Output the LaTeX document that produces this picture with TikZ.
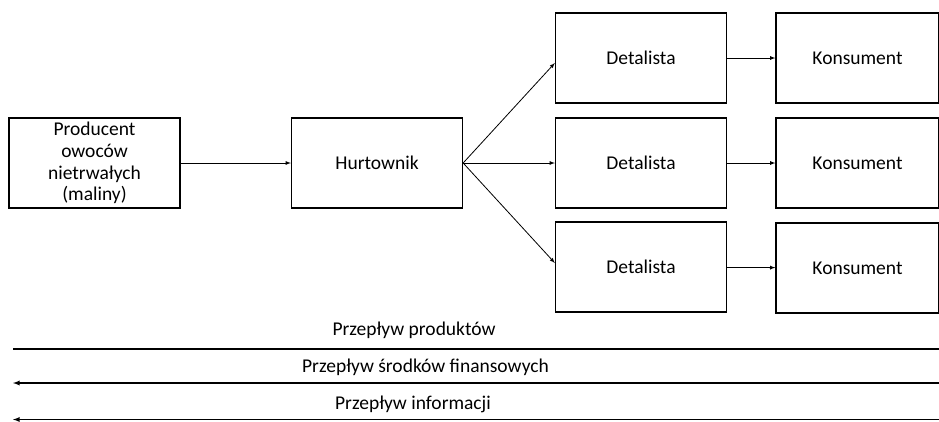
\documentclass[tikz,border=0pt]{standalone}
\usepackage{fontspec}
\setmainfont{Carlito}
\usepackage{tikz}
\usetikzlibrary{arrows}

\begin{document}
\begin{tikzpicture}[x=1pt,y=-1pt]
\tikzstyle{box}= [rectangle, draw, line width=1.3pt, minimum width=171pt, minimum height=90pt, inner sep=0pt, font=\fontsize{19.5}{21.7}\selectfont, align=center]
\tikzstyle{lbl}= [inner sep=0pt, font=\fontsize{19.5}{21.7}\selectfont]
\useasboundingbox (0,0) rectangle (939,421);
%chain
\node[box] (prod) at (94.5,163) {Producent\\owoców\\nietrwałych\\(maliny)};
\node[box] (hurt) at (377,163) {Hurtownik};
\def\r{641};
\node[box] (det1) at (\r,58) {Detalista};
\node[box] (det2) at (\r,163) {Detalista};
\node[box] (det3) at (\r,267) {Detalista};
\def\r{857.5};
\node[box, minimum width=163pt] (kon1) at (\r,58) {Konsument};
\node[box, minimum width=163pt] (kon2) at (\r,163) {Konsument};
\node[box, minimum width=163pt] (kon3) at (\r,268) {Konsument};
\draw[line width=0.8pt, -latex] (prod) -- (hurt);
\draw[line width=0.8pt, -latex] (hurt.east) -- ([yshift=-5pt]det1.west);
\draw[line width=0.8pt, -latex] (hurt.east) -- (det2.west);
\draw[line width=0.8pt, -latex] (hurt.east) -- ([yshift=4pt]det3.west);
\draw[line width=0.8pt, -latex] (det1) -- (kon1);
\draw[line width=0.8pt, -latex] (det2) -- (kon2);
\draw[line width=0.8pt, -latex] (det3) -- (kon3);
%flows
\node[lbl] (p1) at (414,330) {Przepływ produktów};
\node[lbl] (p2) at (425.5,367) {Przepływ środków finansowych};
\node[lbl] (p3) at (413,404) {Przepływ informacji};
\coordinate (a1) at (13,349);
\coordinate (b1) at (939,349);
\coordinate (a2) at (13,383);
\coordinate (b2) at (939,383);
\coordinate (a3) at (13,419.5);
\coordinate (b3) at (939,419.5);
\draw[line width=1.3pt] (a1) -- (b1);
\draw[line width=1.3pt, -latex] (b2) -- (a2);
\draw[line width=1.3pt, -latex] (b3) -- (a3);
\end{tikzpicture}
\end{document}
